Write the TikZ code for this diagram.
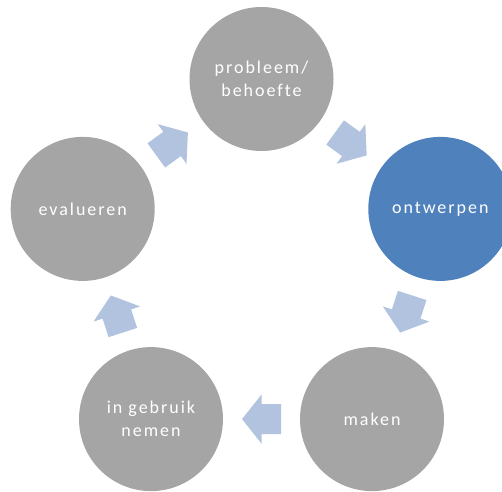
\documentclass[tikz,border=0pt]{standalone}
\usepackage{fontspec}
\setmainfont[LetterSpace=11,Ligatures={NoCommon}]{Carlito}
\usetikzlibrary{calc}
\definecolor{cgray}{HTML}{A5A5A5}
\definecolor{cblue}{HTML}{4F81BD}
\definecolor{carrow}{HTML}{B1C3DF}
\tikzset{
  stage/.style={circle, fill=cgray, minimum size=144pt, inner sep=0pt,
    text=white, align=center, font=\fontsize{18}{23}\selectfont},
  active/.style={stage, fill=cblue},
}
\newcommand{\blockarrow}[3]{%
  \fill[carrow, shift={($(#1)!0.5!(#2)$)}, rotate=#3]
    (-19.5,-15) -- (0,-15) -- (0,-24.5) -- (19.5,0) -- (0,24.5) -- (0,15) -- (-19.5,15) -- cycle;}
\begin{document}
\begin{tikzpicture}[x=1pt,y=1pt]
\useasboundingbox (0,0) rectangle (502,491);
\clip (0,0) rectangle (502,491);
\coordinate (c) at (261.5,224);
\node[stage]  (p) at ($(c)+(90:188)$)   {probleem/\\behoefte};
\node[active] (o) at ($(c)+(18:188)$)   {ontwerpen};
\node[stage]  (m) at ($(c)+(-54:188)$)  {maken};
\node[stage]  (g) at ($(c)+(-126:188)$) {in gebruik\\nemen};
\node[stage]  (e) at ($(c)+(162:188)$)  {evalueren};
\blockarrow{p}{o}{-36}
\blockarrow{o}{m}{-108}
\blockarrow{m}{g}{180}
\blockarrow{g}{e}{108}
\blockarrow{e}{p}{36}
\end{tikzpicture}
\end{document}
